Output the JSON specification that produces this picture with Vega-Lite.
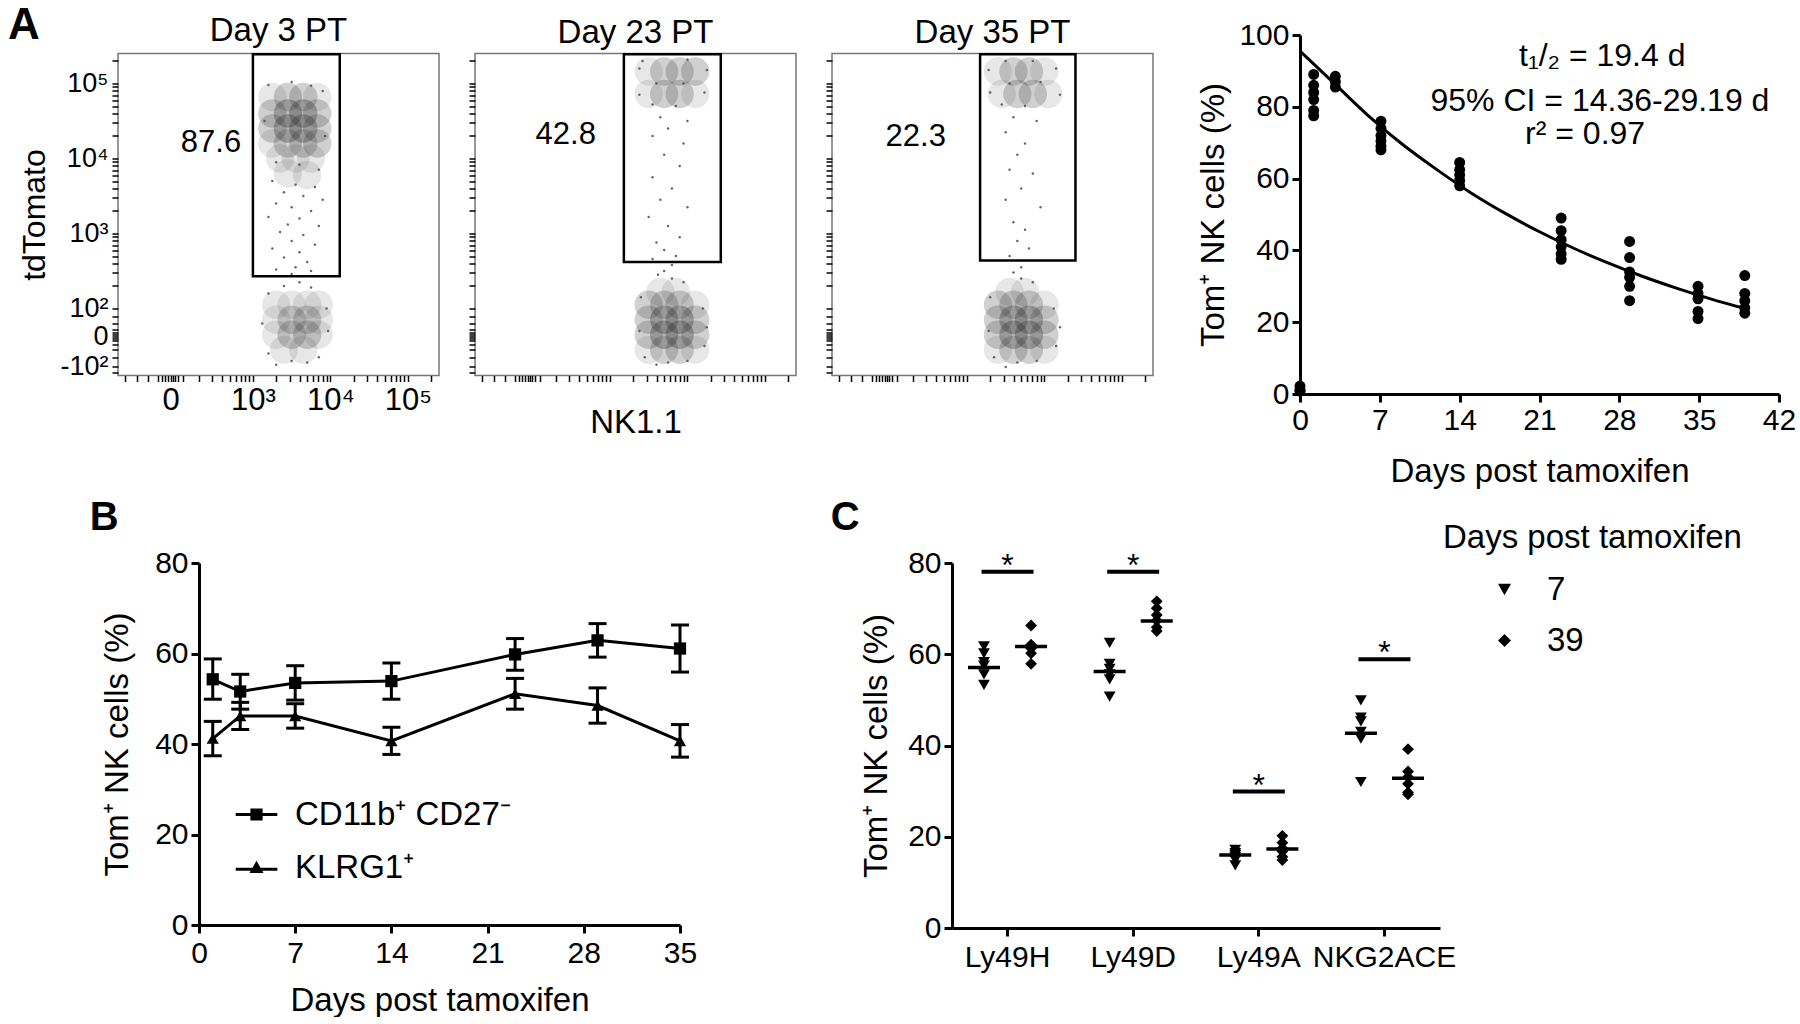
{
"$schema":"https://vega.github.io/schema/vega-lite/v6.json",
"background":"white",
"padding":{"left":7,"top":2,"right":0,"bottom":0},
"config":{
 "font":"Liberation Sans",
 "view":{"stroke":null},
 "axis":{"labelFont":"Liberation Sans","titleFont":"Liberation Sans","labelFontSize":30,"titleFontSize":33,"titleFontWeight":"normal","labelColor":"black","titleColor":"black","domainColor":"black","tickColor":"black","grid":false,"domainWidth":3,"tickWidth":3,"tickSize":8,"labelFlush":false,"labelOverlap":false,"labelBound":false},
 "title":{"font":"Liberation Sans","color":"black"},
 "legend":{"labelFont":"Liberation Sans","titleFont":"Liberation Sans","labelColor":"black","titleColor":"black","labelLimit":500,"titleLimit":500}
},
"datasets":{
 "fl":[
  {"p":"d3","x":3.25,"y":4.82,"d":1},{"p":"d3","x":3.45,"y":4.82,"d":2},{"p":"d3","x":3.65,"y":4.82,"d":2},{"p":"d3","x":3.83,"y":4.82,"d":1},
  {"p":"d3","x":3.25,"y":4.6,"d":2},{"p":"d3","x":3.45,"y":4.6,"d":3},{"p":"d3","x":3.65,"y":4.6,"d":3},{"p":"d3","x":3.83,"y":4.6,"d":2},
  {"p":"d3","x":3.25,"y":4.4,"d":2},{"p":"d3","x":3.45,"y":4.4,"d":3},{"p":"d3","x":3.65,"y":4.4,"d":3},{"p":"d3","x":3.83,"y":4.4,"d":2},
  {"p":"d3","x":3.25,"y":4.2,"d":1},{"p":"d3","x":3.45,"y":4.2,"d":2},{"p":"d3","x":3.65,"y":4.2,"d":2},{"p":"d3","x":3.83,"y":4.2,"d":2},
  {"p":"d3","x":3.35,"y":4.0,"d":1},{"p":"d3","x":3.55,"y":4.0,"d":1},{"p":"d3","x":3.75,"y":4.0,"d":1},
  {"p":"d3","x":3.45,"y":3.8,"d":1},{"p":"d3","x":3.7,"y":3.78,"d":1},
  {"p":"d3","x":3.3,"y":2.05,"d":1},{"p":"d3","x":3.5,"y":2.05,"d":1},{"p":"d3","x":3.7,"y":2.05,"d":1},{"p":"d3","x":3.85,"y":2.05,"d":1},
  {"p":"d3","x":3.3,"y":1.85,"d":1},{"p":"d3","x":3.5,"y":1.85,"d":2},{"p":"d3","x":3.7,"y":1.85,"d":2},{"p":"d3","x":3.85,"y":1.85,"d":1},
  {"p":"d3","x":3.3,"y":1.65,"d":1},{"p":"d3","x":3.5,"y":1.65,"d":2},{"p":"d3","x":3.7,"y":1.65,"d":2},{"p":"d3","x":3.85,"y":1.65,"d":1},
  {"p":"d3","x":3.4,"y":1.45,"d":1},{"p":"d3","x":3.65,"y":1.45,"d":1},
  {"p":"d23","x":3.5,"y":5.16,"d":1},{"p":"d23","x":3.7,"y":5.16,"d":2},{"p":"d23","x":3.9,"y":5.16,"d":2},{"p":"d23","x":4.1,"y":5.16,"d":2},
  {"p":"d23","x":3.5,"y":4.86,"d":1},{"p":"d23","x":3.7,"y":4.86,"d":2},{"p":"d23","x":3.9,"y":4.86,"d":2},{"p":"d23","x":4.1,"y":4.86,"d":1},
  {"p":"d23","x":3.65,"y":2.22,"d":1},{"p":"d23","x":3.85,"y":2.22,"d":1},
  {"p":"d23","x":3.5,"y":2.05,"d":2},{"p":"d23","x":3.7,"y":2.05,"d":2},{"p":"d23","x":3.9,"y":2.05,"d":2},{"p":"d23","x":4.1,"y":2.05,"d":1},
  {"p":"d23","x":3.5,"y":1.85,"d":2},{"p":"d23","x":3.7,"y":1.85,"d":3},{"p":"d23","x":3.9,"y":1.85,"d":3},{"p":"d23","x":4.1,"y":1.85,"d":2},
  {"p":"d23","x":3.5,"y":1.65,"d":2},{"p":"d23","x":3.7,"y":1.65,"d":3},{"p":"d23","x":3.9,"y":1.65,"d":3},{"p":"d23","x":4.1,"y":1.65,"d":2},
  {"p":"d23","x":3.5,"y":1.45,"d":1},{"p":"d23","x":3.7,"y":1.45,"d":2},{"p":"d23","x":3.9,"y":1.45,"d":2},{"p":"d23","x":4.1,"y":1.45,"d":1},
  {"p":"d35","x":3.4,"y":5.16,"d":1},{"p":"d35","x":3.6,"y":5.16,"d":2},{"p":"d35","x":3.8,"y":5.16,"d":2},{"p":"d35","x":4.0,"y":5.16,"d":1},
  {"p":"d35","x":3.45,"y":4.86,"d":1},{"p":"d35","x":3.65,"y":4.86,"d":2},{"p":"d35","x":3.85,"y":4.86,"d":2},{"p":"d35","x":4.05,"y":4.86,"d":1},
  {"p":"d35","x":3.55,"y":2.22,"d":1},{"p":"d35","x":3.75,"y":2.22,"d":1},
  {"p":"d35","x":3.4,"y":2.05,"d":2},{"p":"d35","x":3.6,"y":2.05,"d":2},{"p":"d35","x":3.8,"y":2.05,"d":2},{"p":"d35","x":4.0,"y":2.05,"d":1},
  {"p":"d35","x":3.4,"y":1.85,"d":2},{"p":"d35","x":3.6,"y":1.85,"d":3},{"p":"d35","x":3.8,"y":1.85,"d":3},{"p":"d35","x":4.0,"y":1.85,"d":2},
  {"p":"d35","x":3.4,"y":1.65,"d":2},{"p":"d35","x":3.6,"y":1.65,"d":3},{"p":"d35","x":3.8,"y":1.65,"d":3},{"p":"d35","x":4.0,"y":1.65,"d":2},
  {"p":"d35","x":3.4,"y":1.45,"d":1},{"p":"d35","x":3.6,"y":1.45,"d":2},{"p":"d35","x":3.8,"y":1.45,"d":2},{"p":"d35","x":4.0,"y":1.45,"d":1}
 ],
 "fd":[
  {"p":"d3","x":3.2,"y":4.98},{"p":"d3","x":3.5,"y":5.02},{"p":"d3","x":3.75,"y":4.97},{"p":"d3","x":3.9,"y":4.9},{"p":"d3","x":3.15,"y":4.5},{"p":"d3","x":3.93,"y":4.3},
  {"p":"d3","x":3.3,"y":3.95},{"p":"d3","x":3.6,"y":3.92},{"p":"d3","x":3.85,"y":3.85},{"p":"d3","x":3.25,"y":3.7},{"p":"d3","x":3.55,"y":3.65},{"p":"d3","x":3.8,"y":3.62},
  {"p":"d3","x":3.4,"y":3.55},{"p":"d3","x":3.65,"y":3.5},{"p":"d3","x":3.9,"y":3.45},{"p":"d3","x":3.3,"y":3.4},{"p":"d3","x":3.5,"y":3.35},{"p":"d3","x":3.75,"y":3.3},
  {"p":"d3","x":3.2,"y":3.22},{"p":"d3","x":3.6,"y":3.2},{"p":"d3","x":3.45,"y":3.12},{"p":"d3","x":3.85,"y":3.1},{"p":"d3","x":3.35,"y":3.02},{"p":"d3","x":3.65,"y":2.98},
  {"p":"d3","x":3.5,"y":2.9},{"p":"d3","x":3.8,"y":2.85},{"p":"d3","x":3.25,"y":2.8},{"p":"d3","x":3.6,"y":2.75},{"p":"d3","x":3.4,"y":2.68},{"p":"d3","x":3.7,"y":2.62},
  {"p":"d3","x":3.55,"y":2.55},{"p":"d3","x":3.3,"y":2.52},{"p":"d3","x":3.75,"y":2.5},{"p":"d3","x":3.5,"y":2.46},
  {"p":"d3","x":3.4,"y":2.3},{"p":"d3","x":3.6,"y":2.35},{"p":"d3","x":3.75,"y":2.28},{"p":"d3","x":3.2,"y":2.2},{"p":"d3","x":3.95,"y":2.0},{"p":"d3","x":3.12,"y":1.8},
  {"p":"d3","x":3.97,"y":1.7},{"p":"d3","x":3.2,"y":1.4},{"p":"d3","x":3.85,"y":1.35},{"p":"d3","x":3.5,"y":1.3},{"p":"d3","x":3.3,"y":1.25},{"p":"d3","x":3.7,"y":1.28},
  {"p":"d23","x":3.38,"y":5.2},{"p":"d23","x":4.25,"y":5.18},{"p":"d23","x":3.42,"y":5.3},{"p":"d23","x":4.0,"y":5.32},{"p":"d23","x":4.22,"y":4.88},{"p":"d23","x":3.38,"y":4.85},
  {"p":"d23","x":3.6,"y":5.0},{"p":"d23","x":3.95,"y":5.0},{"p":"d23","x":3.55,"y":4.72},{"p":"d23","x":3.85,"y":4.7},
  {"p":"d23","x":3.65,"y":4.55},{"p":"d23","x":4.0,"y":4.5},{"p":"d23","x":3.75,"y":4.4},{"p":"d23","x":3.55,"y":4.3},{"p":"d23","x":3.95,"y":4.2},{"p":"d23","x":3.7,"y":4.05},
  {"p":"d23","x":3.9,"y":3.9},{"p":"d23","x":3.55,"y":3.75},{"p":"d23","x":3.8,"y":3.6},{"p":"d23","x":3.65,"y":3.45},{"p":"d23","x":4.0,"y":3.35},{"p":"d23","x":3.5,"y":3.22},
  {"p":"d23","x":3.75,"y":3.1},{"p":"d23","x":3.9,"y":2.95},{"p":"d23","x":3.6,"y":2.88},{"p":"d23","x":3.7,"y":2.78},{"p":"d23","x":3.85,"y":2.7},{"p":"d23","x":3.55,"y":2.66},
  {"p":"d23","x":3.8,"y":2.58},{"p":"d23","x":3.7,"y":2.5},{"p":"d23","x":3.62,"y":2.45},
  {"p":"d23","x":3.8,"y":2.4},{"p":"d23","x":3.95,"y":2.35},{"p":"d23","x":3.4,"y":2.15},{"p":"d23","x":4.2,"y":2.0},{"p":"d23","x":4.25,"y":1.75},{"p":"d23","x":3.38,"y":1.7},
  {"p":"d23","x":4.22,"y":1.5},{"p":"d23","x":3.45,"y":1.35},{"p":"d23","x":3.75,"y":1.28},{"p":"d23","x":4.0,"y":1.3},{"p":"d23","x":3.6,"y":1.25},
  {"p":"d35","x":3.28,"y":5.18},{"p":"d35","x":4.15,"y":5.2},{"p":"d35","x":3.5,"y":5.3},{"p":"d35","x":3.85,"y":5.3},{"p":"d35","x":4.2,"y":4.85},{"p":"d35","x":3.3,"y":4.88},
  {"p":"d35","x":3.55,"y":5.0},{"p":"d35","x":3.95,"y":5.02},{"p":"d35","x":3.45,"y":4.72},{"p":"d35","x":3.75,"y":4.7},
  {"p":"d35","x":3.6,"y":4.55},{"p":"d35","x":3.9,"y":4.5},{"p":"d35","x":3.5,"y":4.35},{"p":"d35","x":3.75,"y":4.2},{"p":"d35","x":3.65,"y":4.05},{"p":"d35","x":3.55,"y":3.85},
  {"p":"d35","x":3.85,"y":3.8},{"p":"d35","x":3.7,"y":3.6},{"p":"d35","x":3.5,"y":3.45},{"p":"d35","x":3.95,"y":3.35},{"p":"d35","x":3.6,"y":3.15},{"p":"d35","x":3.75,"y":3.05},
  {"p":"d35","x":3.65,"y":2.9},{"p":"d35","x":3.8,"y":2.8},{"p":"d35","x":3.55,"y":2.7},{"p":"d35","x":3.7,"y":2.55},{"p":"d35","x":3.6,"y":2.48},
  {"p":"d35","x":3.7,"y":2.4},{"p":"d35","x":3.85,"y":2.35},{"p":"d35","x":3.3,"y":2.15},{"p":"d35","x":4.12,"y":2.0},{"p":"d35","x":4.2,"y":1.75},{"p":"d35","x":3.28,"y":1.7},
  {"p":"d35","x":4.15,"y":1.5},{"p":"d35","x":3.35,"y":1.35},{"p":"d35","x":3.65,"y":1.28},{"p":"d35","x":3.9,"y":1.3},{"p":"d35","x":3.5,"y":1.22}
 ],
 "gates":[
  {"p":"d3","x1":3.0,"x2":4.12,"y1":2.43,"y2":5.39,"lbl":"87.6"},
  {"p":"d23","x1":3.18,"x2":4.43,"y1":2.62,"y2":5.39,"lbl":"42.8"},
  {"p":"d35","x1":3.17,"x2":4.4,"y1":2.64,"y2":5.39,"lbl":"22.3"}
 ],
 "curve":[
  {"t":0,"v":95.5},{"t":3,"v":86.5},{"t":6,"v":77.5},{"t":9,"v":69.5},{"t":12,"v":62.5},{"t":15,"v":56},{"t":18,"v":50.3},
  {"t":21,"v":45.2},{"t":24,"v":40.6},{"t":27,"v":36.5},{"t":30,"v":32.8},{"t":33,"v":29.5},{"t":36,"v":26.5},{"t":39,"v":23.8}
 ],
 "obs":[
  {"t":0,"v":2.2},{"t":0,"v":1.2},{"t":0,"v":0.8},
  {"t":1.2,"v":89},{"t":1.2,"v":86},{"t":1.2,"v":84},{"t":1.2,"v":82},{"t":1.2,"v":79},{"t":1.2,"v":77.5},
  {"t":3.1,"v":88.5},{"t":3.1,"v":87},{"t":3.1,"v":85.5},
  {"t":7.1,"v":76},{"t":7.1,"v":74},{"t":7.1,"v":72},{"t":7.1,"v":70.5},{"t":7.1,"v":69},{"t":7.1,"v":68},
  {"t":14,"v":64.5},{"t":14,"v":62.5},{"t":14,"v":61},{"t":14,"v":59.5},{"t":14,"v":58},
  {"t":22.9,"v":49},{"t":22.9,"v":45.5},{"t":22.9,"v":43},{"t":22.9,"v":41},{"t":22.9,"v":39},{"t":22.9,"v":37.5},
  {"t":28.9,"v":42.5},{"t":28.9,"v":38},{"t":28.9,"v":34},{"t":28.9,"v":32.5},{"t":28.9,"v":30},{"t":28.9,"v":26},
  {"t":34.9,"v":30},{"t":34.9,"v":28},{"t":34.9,"v":26.5},{"t":34.9,"v":23},{"t":34.9,"v":21},
  {"t":39,"v":33},{"t":39,"v":28},{"t":39,"v":26},{"t":39,"v":24},{"t":39,"v":22.5}
 ],
 "bd":[
  {"s":"CD11b⁺ CD27⁻","d":1,"m":54.3,"lo":49.9,"hi":58.8},{"s":"CD11b⁺ CD27⁻","d":3,"m":51.6,"lo":47.7,"hi":55.4},
  {"s":"CD11b⁺ CD27⁻","d":7,"m":53.5,"lo":49.7,"hi":57.3},{"s":"CD11b⁺ CD27⁻","d":14,"m":53.9,"lo":49.9,"hi":57.9},
  {"s":"CD11b⁺ CD27⁻","d":23,"m":59.8,"lo":56.3,"hi":63.3},{"s":"CD11b⁺ CD27⁻","d":29,"m":62.9,"lo":59.2,"hi":66.6},
  {"s":"CD11b⁺ CD27⁻","d":35,"m":61.1,"lo":55.9,"hi":66.3},
  {"s":"KLRG1⁺","d":1,"m":41.2,"lo":37.4,"hi":45.0},{"s":"KLRG1⁺","d":3,"m":46.2,"lo":43.2,"hi":49.2},
  {"s":"KLRG1⁺","d":7,"m":46.2,"lo":43.5,"hi":48.9},{"s":"KLRG1⁺","d":14,"m":40.7,"lo":37.7,"hi":43.7},
  {"s":"KLRG1⁺","d":23,"m":51.1,"lo":47.7,"hi":54.5},{"s":"KLRG1⁺","d":29,"m":48.5,"lo":44.6,"hi":52.4},
  {"s":"KLRG1⁺","d":35,"m":40.7,"lo":37.1,"hi":44.3}
 ],
 "cd":[
  {"m":"Ly49H","g":"7","v":61.7},{"m":"Ly49H","g":"7","v":60.2},{"m":"Ly49H","g":"7","v":58.3},{"m":"Ly49H","g":"7","v":57.5},{"m":"Ly49H","g":"7","v":55.6},{"m":"Ly49H","g":"7","v":53.3},
  {"m":"Ly49H","g":"39","v":66.3},{"m":"Ly49H","g":"39","v":62.1},{"m":"Ly49H","g":"39","v":61.7},{"m":"Ly49H","g":"39","v":61.3},{"m":"Ly49H","g":"39","v":60.2},{"m":"Ly49H","g":"39","v":57.9},
  {"m":"Ly49D","g":"7","v":62.5},{"m":"Ly49D","g":"7","v":57.9},{"m":"Ly49D","g":"7","v":56.8},{"m":"Ly49D","g":"7","v":55.6},{"m":"Ly49D","g":"7","v":54.5},{"m":"Ly49D","g":"7","v":50.7},
  {"m":"Ly49D","g":"39","v":71.6},{"m":"Ly49D","g":"39","v":70.1},{"m":"Ly49D","g":"39","v":68.6},{"m":"Ly49D","g":"39","v":67.4},{"m":"Ly49D","g":"39","v":65.9},{"m":"Ly49D","g":"39","v":65.1},
  {"m":"Ly49A","g":"7","v":17.1},{"m":"Ly49A","g":"7","v":16.4},{"m":"Ly49A","g":"7","v":16.0},{"m":"Ly49A","g":"7","v":15.6},{"m":"Ly49A","g":"7","v":14.9},{"m":"Ly49A","g":"7","v":13.7},
  {"m":"Ly49A","g":"39","v":20.2},{"m":"Ly49A","g":"39","v":18.7},{"m":"Ly49A","g":"39","v":17.5},{"m":"Ly49A","g":"39","v":16.8},{"m":"Ly49A","g":"39","v":15.6},{"m":"Ly49A","g":"39","v":14.9},
  {"m":"NKG2ACE","g":"7","v":49.9},{"m":"NKG2ACE","g":"7","v":46.1},{"m":"NKG2ACE","g":"7","v":45.3},{"m":"NKG2ACE","g":"7","v":43.0},{"m":"NKG2ACE","g":"7","v":41.5},{"m":"NKG2ACE","g":"7","v":32.0},
  {"m":"NKG2ACE","g":"39","v":39.2},{"m":"NKG2ACE","g":"39","v":34.3},{"m":"NKG2ACE","g":"39","v":33.1},{"m":"NKG2ACE","g":"39","v":31.6},{"m":"NKG2ACE","g":"39","v":29.7},{"m":"NKG2ACE","g":"39","v":29.3}
 ],
 "cmed":[
  {"m":"Ly49H","g":"7","v":57.1},{"m":"Ly49H","g":"39","v":61.7},{"m":"Ly49D","g":"7","v":56.2},{"m":"Ly49D","g":"39","v":67.3},
  {"m":"Ly49A","g":"7","v":16.0},{"m":"Ly49A","g":"39","v":17.3},{"m":"NKG2ACE","g":"7","v":42.7},{"m":"NKG2ACE","g":"39","v":32.8}
 ],
 "csig":[
  {"m":"Ly49H","v":78.1},{"m":"Ly49D","v":78.1},{"m":"Ly49A","v":29.9},{"m":"NKG2ACE","v":58.9}
 ]
},
"vconcat":[
 {"hconcat":[
   {"width":321,"height":322,"view":{"stroke":"#777","strokeWidth":1.5},
    "title":{"text":"Day 3 PT","fontSize":33,"fontWeight":"normal","offset":-44},
    "layer":[
     {"data":{"name":"fl"},"transform":[{"filter":"datum.p=='d3'"}],"mark":{"type":"circle","color":"#3a3a3a","size":800},
      "encoding":{
       "x":{"field":"x","type":"quantitative","title":null,"scale":{"domain":[1.26,5.4],"nice":false,"zero":false},
        "axis":{"values":[1.35,1.5,1.65,1.78,1.83,1.87,1.9,1.94,1.97,2.0,2.04,2.1,2.301,2.477,2.602,2.699,2.778,2.845,2.903,2.954,3,3.301,3.477,3.602,3.699,3.778,3.845,3.903,3.954,4,4.301,4.477,4.602,4.699,4.778,4.845,4.903,4.954,5,5.301],
         "labelExpr":"datum.value==1.94?'0':datum.value==3?'10³':datum.value==4?'10⁴':datum.value==5?'10⁵':''",
         "tickCount":500,"labelOverlap":false,"domain":false,"tickSize":6,"tickWidth":1.5,"labelFontSize":31,"labelPadding":4}},
       "y":{"field":"y","type":"quantitative","title":"tdTomato","scale":{"domain":[1.107,5.4],"nice":false,"zero":false},
        "axis":{"values":[5.301,5,4.954,4.903,4.845,4.778,4.699,4.602,4.477,4.301,4,3.954,3.903,3.845,3.778,3.699,3.602,3.477,3.301,3,2.954,2.903,2.845,2.778,2.699,2.602,2.477,2.301,2,1.9,1.8,1.72,1.68,1.65,1.627,1.6,1.57,1.52,1.45,1.35,1.227,1.15],
         "labelExpr":"datum.value==5?'10⁵':datum.value==4?'10⁴':datum.value==3?'10³':datum.value==2?'10²':datum.value==1.627?'0':datum.value==1.227?'-10²':''",
         "tickCount":500,"labelOverlap":false,"domain":false,"tickSize":6,"tickWidth":1.5,"labelFontSize":27,"labelPadding":4,"titleFontSize":32,"titlePadding":8}},
       "opacity":{"field":"d","type":"quantitative","scale":{"domain":[1,3],"range":[0.12,0.36]},"legend":null}}},
     {"data":{"name":"fd"},"transform":[{"filter":"datum.p=='d3'"}],"mark":{"type":"circle","color":"#555555","size":6,"opacity":0.9},
      "encoding":{"x":{"field":"x","type":"quantitative","title":null},"y":{"field":"y","type":"quantitative","title":"tdTomato"}}},
     {"data":{"name":"gates"},"transform":[{"filter":"datum.p=='d3'"}],"mark":{"type":"rect","filled":false,"color":"black","strokeWidth":2.5,"opacity":1},
      "encoding":{"x":{"field":"x1","type":"quantitative","title":null},"x2":{"field":"x2"},"y":{"field":"y1","type":"quantitative","title":"tdTomato"},"y2":{"field":"y2"}}},
     {"data":{"name":"gates"},"transform":[{"filter":"datum.p=='d3'"}],"mark":{"type":"text","fontSize":31,"align":"center","baseline":"middle"},
      "encoding":{"text":{"field":"lbl"},"x":{"datum":2.46,"type":"quantitative"},"y":{"datum":4.21,"type":"quantitative"}}},
     {"data":{"values":[{"t":"A"}]},"mark":{"type":"text","fontSize":44,"fontWeight":"bold","align":"center","baseline":"middle"},
      "encoding":{"text":{"field":"t"},"x":{"datum":0.047,"type":"quantitative"},"y":{"datum":5.77,"type":"quantitative"}}}
    ]},
   {"width":321,"height":322,"view":{"stroke":"#777","strokeWidth":1.5},
    "title":{"text":"Day 23 PT","fontSize":33,"fontWeight":"normal","offset":3},
    "layer":[
     {"data":{"name":"fl"},"transform":[{"filter":"datum.p=='d23'"}],"mark":{"type":"circle","color":"#3a3a3a","size":800},
      "encoding":{
       "x":{"field":"x","type":"quantitative","title":"NK1.1","scale":{"domain":[1.26,5.4],"nice":false,"zero":false},
        "axis":{"values":[1.35,1.5,1.65,1.78,1.83,1.87,1.9,1.94,1.97,2.0,2.04,2.1,2.301,2.477,2.602,2.699,2.778,2.845,2.903,2.954,3,3.301,3.477,3.602,3.699,3.778,3.845,3.903,3.954,4,4.301,4.477,4.602,4.699,4.778,4.845,4.903,4.954,5,5.301],
         "tickCount":500,"labels":false,"domain":false,"tickSize":6,"tickWidth":1.5,"titleFontSize":33,"titlePadding":24}},
       "y":{"field":"y","type":"quantitative","title":null,"scale":{"domain":[1.107,5.4],"nice":false,"zero":false},
        "axis":{"values":[5.301,5,4.954,4.903,4.845,4.778,4.699,4.602,4.477,4.301,4,3.954,3.903,3.845,3.778,3.699,3.602,3.477,3.301,3,2.954,2.903,2.845,2.778,2.699,2.602,2.477,2.301,2,1.9,1.8,1.72,1.68,1.65,1.627,1.6,1.57,1.52,1.45,1.35,1.227,1.15],
         "tickCount":500,"labels":false,"domain":false,"tickSize":6,"tickWidth":1.5}},
       "opacity":{"field":"d","type":"quantitative","scale":{"domain":[1,3],"range":[0.12,0.36]},"legend":null}}},
     {"data":{"name":"fd"},"transform":[{"filter":"datum.p=='d23'"}],"mark":{"type":"circle","color":"#555555","size":6,"opacity":0.9},
      "encoding":{"x":{"field":"x","type":"quantitative","title":"NK1.1"},"y":{"field":"y","type":"quantitative","title":null}}},
     {"data":{"name":"gates"},"transform":[{"filter":"datum.p=='d23'"}],"mark":{"type":"rect","filled":false,"color":"black","strokeWidth":2.5,"opacity":1},
      "encoding":{"x":{"field":"x1","type":"quantitative","title":"NK1.1"},"x2":{"field":"x2"},"y":{"field":"y1","type":"quantitative","title":null},"y2":{"field":"y2"}}},
     {"data":{"name":"gates"},"transform":[{"filter":"datum.p=='d23'"}],"mark":{"type":"text","fontSize":31,"align":"center","baseline":"middle"},
      "encoding":{"text":{"field":"lbl"},"x":{"datum":2.43,"type":"quantitative"},"y":{"datum":4.32,"type":"quantitative"}}}
    ]},
   {"width":321,"height":322,"view":{"stroke":"#777","strokeWidth":1.5},
    "title":{"text":"Day 35 PT","fontSize":33,"fontWeight":"normal","offset":3},
    "layer":[
     {"data":{"name":"fl"},"transform":[{"filter":"datum.p=='d35'"}],"mark":{"type":"circle","color":"#3a3a3a","size":800},
      "encoding":{
       "x":{"field":"x","type":"quantitative","title":null,"scale":{"domain":[1.26,5.4],"nice":false,"zero":false},
        "axis":{"values":[1.35,1.5,1.65,1.78,1.83,1.87,1.9,1.94,1.97,2.0,2.04,2.1,2.301,2.477,2.602,2.699,2.778,2.845,2.903,2.954,3,3.301,3.477,3.602,3.699,3.778,3.845,3.903,3.954,4,4.301,4.477,4.602,4.699,4.778,4.845,4.903,4.954,5,5.301],
         "tickCount":500,"labels":false,"domain":false,"tickSize":6,"tickWidth":1.5}},
       "y":{"field":"y","type":"quantitative","title":null,"scale":{"domain":[1.107,5.4],"nice":false,"zero":false},
        "axis":{"values":[5.301,5,4.954,4.903,4.845,4.778,4.699,4.602,4.477,4.301,4,3.954,3.903,3.845,3.778,3.699,3.602,3.477,3.301,3,2.954,2.903,2.845,2.778,2.699,2.602,2.477,2.301,2,1.9,1.8,1.72,1.68,1.65,1.627,1.6,1.57,1.52,1.45,1.35,1.227,1.15],
         "tickCount":500,"labels":false,"domain":false,"tickSize":6,"tickWidth":1.5}},
       "opacity":{"field":"d","type":"quantitative","scale":{"domain":[1,3],"range":[0.12,0.36]},"legend":null}}},
     {"data":{"name":"fd"},"transform":[{"filter":"datum.p=='d35'"}],"mark":{"type":"circle","color":"#555555","size":6,"opacity":0.9},
      "encoding":{"x":{"field":"x","type":"quantitative","title":null},"y":{"field":"y","type":"quantitative","title":null}}},
     {"data":{"name":"gates"},"transform":[{"filter":"datum.p=='d35'"}],"mark":{"type":"rect","filled":false,"color":"black","strokeWidth":2.5,"opacity":1},
      "encoding":{"x":{"field":"x1","type":"quantitative","title":null},"x2":{"field":"x2"},"y":{"field":"y1","type":"quantitative","title":null},"y2":{"field":"y2"}}},
     {"data":{"name":"gates"},"transform":[{"filter":"datum.p=='d35'"}],"mark":{"type":"text","fontSize":31,"align":"center","baseline":"middle"},
      "encoding":{"text":{"field":"lbl"},"x":{"datum":2.34,"type":"quantitative"},"y":{"datum":4.29,"type":"quantitative"}}}
    ]},
   {"width":75,"height":10,"view":{"fill":"transparent","stroke":null},"data":{"values":[]},"mark":"point"},
   {"width":479,"height":359,
    "layer":[
     {"data":{"name":"curve"},"mark":{"type":"line","color":"black","strokeWidth":3,"interpolate":"monotone"},
      "encoding":{
       "x":{"field":"t","type":"quantitative","title":"Days post tamoxifen","scale":{"domain":[0,42],"nice":false},"axis":{"values":[0,7,14,21,28,35,42],"labelPadding":3,"titlePadding":20}},
       "y":{"field":"v","type":"quantitative","title":"Tom⁺ NK cells (%)","scale":{"domain":[0,100],"nice":false},"axis":{"values":[0,20,40,60,80,100],"labelPadding":3,"titlePadding":8}}}},
     {"data":{"name":"obs"},"mark":{"type":"circle","color":"black","size":120,"opacity":1},
      "encoding":{"x":{"field":"t","type":"quantitative","title":"Days post tamoxifen"},"y":{"field":"v","type":"quantitative","title":"Tom⁺ NK cells (%)"}}},
     {"data":{"values":[{"t":"t₁/₂ = 19.4 d"}]},"mark":{"type":"text","fontSize":32,"align":"center","baseline":"middle"},
      "encoding":{"text":{"field":"t"},"x":{"datum":26.5,"type":"quantitative"},"y":{"datum":94.2,"type":"quantitative"}}},
     {"data":{"values":[{"t":"95% CI = 14.36-29.19 d"}]},"mark":{"type":"text","fontSize":32,"align":"center","baseline":"middle"},
      "encoding":{"text":{"field":"t"},"x":{"datum":26.3,"type":"quantitative"},"y":{"datum":81.6,"type":"quantitative"}}},
     {"data":{"values":[{"t":"r² = 0.97"}]},"mark":{"type":"text","fontSize":32,"align":"center","baseline":"middle"},
      "encoding":{"text":{"field":"t"},"x":{"datum":25.0,"type":"quantitative"},"y":{"datum":72.4,"type":"quantitative"}}}
    ]}
 ],"spacing":36,"bounds":"flush","center":true},
 {"hconcat":[
   {"width":61,"height":10,"view":{"fill":"transparent","stroke":null},"data":{"values":[]},"mark":"point"},
   {"width":481,"height":362,
    "title":{"text":"B","anchor":"start","frame":"bounds","fontSize":40,"fontWeight":"bold","dx":-12,"offset":10},
    "layer":[
     {"data":{"name":"bd"},"mark":{"type":"line","color":"black","strokeWidth":3},
      "encoding":{
       "x":{"field":"d","type":"quantitative","title":"Days post tamoxifen","scale":{"domain":[0,35],"nice":false},"axis":{"values":[0,7,14,21,28,35],"labelPadding":5,"titlePadding":16}},
       "y":{"field":"m","type":"quantitative","title":"Tom⁺ NK cells (%)","scale":{"domain":[0,80],"nice":false},"axis":{"values":[0,20,40,60,80],"labelPadding":3,"titlePadding":20}},
       "detail":{"field":"s"}}},
     {"data":{"name":"bd"},"mark":{"type":"rule","color":"black","strokeWidth":3},
      "encoding":{"x":{"field":"d","type":"quantitative","title":"Days post tamoxifen"},"y":{"field":"lo","type":"quantitative","title":"Tom⁺ NK cells (%)"},"y2":{"field":"hi"}}},
     {"data":{"name":"bd"},"mark":{"type":"tick","color":"black","thickness":3,"size":18,"orient":"horizontal","opacity":1},
      "encoding":{"x":{"field":"d","type":"quantitative","title":"Days post tamoxifen"},"y":{"field":"lo","type":"quantitative","title":"Tom⁺ NK cells (%)"}}},
     {"data":{"name":"bd"},"mark":{"type":"tick","color":"black","thickness":3,"size":18,"orient":"horizontal","opacity":1},
      "encoding":{"x":{"field":"d","type":"quantitative","title":"Days post tamoxifen"},"y":{"field":"hi","type":"quantitative","title":"Tom⁺ NK cells (%)"}}},
     {"data":{"name":"bd"},"mark":{"type":"point","filled":true,"color":"black","size":150,"opacity":1},
      "encoding":{"x":{"field":"d","type":"quantitative","title":"Days post tamoxifen"},"y":{"field":"m","type":"quantitative","title":"Tom⁺ NK cells (%)"},
       "shape":{"field":"s","type":"nominal","scale":{"domain":["CD11b⁺ CD27⁻","KLRG1⁺"],"range":["square","triangle-up"]},"legend":null}}},
     {"data":{"name":"bd"},"transform":[{"filter":"false"}],"mark":{"type":"point","filled":true,"color":"black","opacity":1},
      "encoding":{"x":{"field":"d","type":"quantitative","title":"Days post tamoxifen"},"y":{"field":"m","type":"quantitative","title":"Tom⁺ NK cells (%)"},
       "shape":{"field":"s","type":"nominal","scale":{"domain":["CD11b⁺ CD27⁻","KLRG1⁺"],"range":["M-3.4,-0.25H3.4V0.25H-3.4Z M-1,-1H1V1H-1Z","M-3.4,0.05H3.4V0.55H-3.4Z M0,-1.1L1.15,0.9H-1.15Z"]},
        "legend":{"orient":"none","legendX":41,"legendY":235,"title":null,"labelFontSize":33,"symbolSize":150,"symbolFillColor":"black","symbolOpacity":1,"labelOffset":22,"rowPadding":19,"padding":0}}}}
    ],
    "resolve":{"scale":{"shape":"independent"},"legend":{"shape":"independent"}}},
   {"width":232,"height":10,"view":{"fill":"transparent","stroke":null},"data":{"values":[]},"mark":"point"},
   {"width":488,"height":365,
    "title":{"text":"C","anchor":"start","frame":"bounds","fontSize":40,"fontWeight":"bold","dx":-30,"offset":-16},
    "layer":[
     {"data":{"name":"cd"},"mark":{"type":"point","filled":true,"color":"black","size":140,"opacity":1},
      "encoding":{
       "x":{"field":"m","type":"nominal","sort":["Ly49H","Ly49D","Ly49A","NKG2ACE"],"title":null,"scale":{"paddingInner":0.25,"paddingOuter":0.067},"axis":{"labelAngle":0,"labelPadding":6}},
       "xOffset":{"field":"g","type":"nominal","sort":["7","39"],"scale":{"domain":["7","39"]}},
       "y":{"field":"v","type":"quantitative","title":"Tom⁺ NK cells (%)","scale":{"domain":[0,80],"nice":false},"axis":{"values":[0,20,40,60,80],"labelPadding":3,"titlePadding":14}},
       "shape":{"field":"g","type":"nominal","scale":{"domain":["7","39"],"range":["triangle-down","diamond"]},
        "legend":{"orient":"none","legendX":491,"legendY":-41,"title":"Days post tamoxifen","titleFontSize":33,"titleFontWeight":"normal","labelFontSize":33,"symbolOffset":45,"symbolSize":170,"symbolFillColor":"black","symbolStrokeColor":"black","symbolStrokeWidth":0,"symbolOpacity":1,"titlePadding":18,"rowPadding":17,"labelOffset":26,"padding":0}}}},
     {"data":{"name":"cmed"},"mark":{"type":"tick","color":"black","thickness":3.5,"size":32,"opacity":1},
      "encoding":{"x":{"field":"m","type":"nominal","sort":["Ly49H","Ly49D","Ly49A","NKG2ACE"],"title":null},"xOffset":{"field":"g","type":"nominal","sort":["7","39"]},"y":{"field":"v","type":"quantitative","title":"Tom⁺ NK cells (%)"}}},
     {"data":{"name":"csig"},"mark":{"type":"tick","color":"black","thickness":4,"size":52,"opacity":1},
      "encoding":{"x":{"field":"m","type":"nominal","sort":["Ly49H","Ly49D","Ly49A","NKG2ACE"],"title":null},"y":{"field":"v","type":"quantitative","title":"Tom⁺ NK cells (%)"}}},
     {"data":{"name":"csig"},"mark":{"type":"text","text":"*","fontSize":32,"baseline":"alphabetic","align":"center","dy":4},
      "encoding":{"x":{"field":"m","type":"nominal","sort":["Ly49H","Ly49D","Ly49A","NKG2ACE"],"title":null},"y":{"field":"v","type":"quantitative","title":"Tom⁺ NK cells (%)"}}}
    ]}
 ],"spacing":20,"bounds":"flush","resolve":{"scale":{"shape":"independent"},"legend":{"shape":"independent"}}}
],
"spacing":10,
"resolve":{"scale":{"shape":"independent","opacity":"independent"},"legend":{"shape":"independent"}}
}
